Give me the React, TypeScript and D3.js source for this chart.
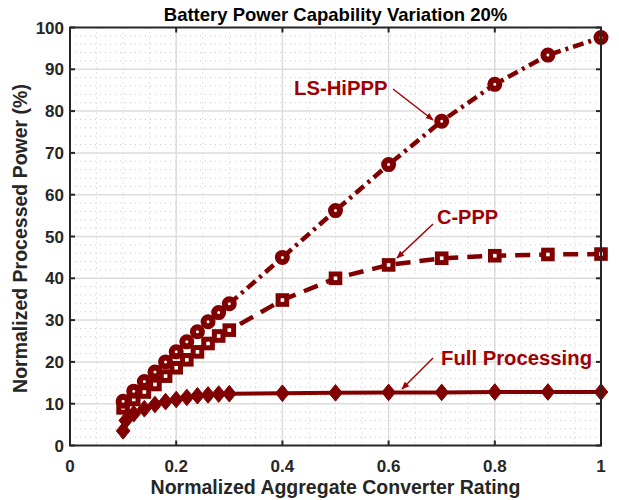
import React from "react";
import * as d3 from "d3";

const titleText = "Battery Power Capability Variation 20%";
const xLabel = "Normalized Aggregate Converter Rating";
const yLabel = "Normalized Processed Power (%)";
const xTicks = [0, 0.2, 0.4, 0.6, 0.8, 1];
const xTickLabels = ["0", "0.2", "0.4", "0.6", "0.8", "1"];
const yTicks = [0, 10, 20, 30, 40, 50, 60, 70, 80, 90, 100];

const lsX = [0.1, 0.12, 0.14, 0.16, 0.18, 0.2, 0.22, 0.24, 0.26, 0.28, 0.3, 0.4, 0.5, 0.6, 0.7, 0.8, 0.9, 1.0];
const lsY = [10.6, 13.0, 15.3, 17.6, 20.0, 22.4, 24.8, 27.2, 29.6, 31.8, 33.9, 45.0, 56.2, 67.2, 77.6, 86.4, 93.4, 97.6];

const cpX = [0.1, 0.12, 0.14, 0.16, 0.18, 0.2, 0.22, 0.24, 0.26, 0.28, 0.3, 0.4, 0.5, 0.6, 0.7, 0.8, 0.9, 1.0];
const cpY = [9.0, 11.0, 12.8, 14.6, 16.6, 18.6, 20.5, 22.4, 24.4, 26.2, 27.6, 34.8, 40.0, 43.2, 44.8, 45.4, 45.7, 45.8];

const fpX = [0.1, 0.105, 0.12, 0.14, 0.16, 0.18, 0.2, 0.22, 0.24, 0.26, 0.28, 0.3, 0.4, 0.5, 0.6, 0.7, 0.8, 0.9, 1.0];
const fpY = [3.5, 6.0, 7.6, 8.8, 9.8, 10.5, 11.0, 11.5, 11.9, 12.1, 12.3, 12.4, 12.5, 12.6, 12.7, 12.7, 12.8, 12.8, 12.8];

const W = 619, H = 500;
const M = { left: 70, right: 601, top: 27.5, bottom: 445.5 };
const lineColor = "#800000";
const textColor = "#a00000";
const font = "'Liberation Sans', Arial, Helvetica, sans-serif";

export default function App() {
  const x = d3.scaleLinear().domain([0, 1]).range([M.left, M.right]);
  const y = d3.scaleLinear().domain([0, 100]).range([M.bottom, M.top]);
  const line = d3.line<[number, number]>().x(d => x(d[0])).y(d => y(d[1]));
  const ls = lsX.map((v, i) => [v, lsY[i]] as [number, number]);
  const cp = cpX.map((v, i) => [v, cpY[i]] as [number, number]);
  const fp = fpX.map((v, i) => [v, fpY[i]] as [number, number]);

  const minorX = d3.range(0.05, 1, 0.05).filter(v => Math.abs(v * 5 - Math.round(v * 5)) > 1e-6);
  const minorY = d3.range(2, 100, 2).filter(v => v % 10 !== 0);

  const diamond = (cx: number, cy: number) => {
    const a = 6.8, b = 8.3;
    return `M${cx},${cy - b}L${cx + a},${cy}L${cx},${cy + b}L${cx - a},${cy}Z`;
  };

  return (
    <svg width={W} height={H} style={{ position: "absolute", left: 0, top: 0, background: "#fff" }}>
      <defs>
        <marker id="arr" viewBox="0 0 10 10" refX="9" refY="5" markerWidth="8" markerHeight="8" orient="auto" markerUnits="userSpaceOnUse">
          <path d="M0,1 L10,5 L0,9 Z" fill={textColor} />
        </marker>
      </defs>
      <rect x={M.left} y={M.top} width={M.right - M.left} height={M.bottom - M.top} fill="#fff" />
      {minorX.map((v, i) => (
        <line key={"mx" + i} x1={x(v)} x2={x(v)} y1={M.top} y2={M.bottom} stroke="#c8c8c8" strokeWidth={1} strokeDasharray="1 4" />
      ))}
      {minorY.map((v, i) => (
        <line key={"my" + i} x1={M.left} x2={M.right} y1={y(v)} y2={y(v)} stroke="#c8c8c8" strokeWidth={1} strokeDasharray="1 4" />
      ))}
      {xTicks.slice(1, -1).map((v, i) => (
        <line key={"gx" + i} x1={x(v)} x2={x(v)} y1={M.top} y2={M.bottom} stroke="#dcdcdc" strokeWidth={1.5} />
      ))}
      {yTicks.slice(1, -1).map((v, i) => (
        <line key={"gy" + i} x1={M.left} x2={M.right} y1={y(v)} y2={y(v)} stroke="#dcdcdc" strokeWidth={1.5} />
      ))}

      <path d={line(fp) || ""} fill="none" stroke={lineColor} strokeWidth={4} />
      <path d={line(cp) || ""} fill="none" stroke={lineColor} strokeWidth={4.5} strokeDasharray="15 9" />
      <path d={line(ls) || ""} fill="none" stroke={lineColor} strokeWidth={4.5} strokeDasharray="11 5 3 5" />

      {fp.map((d, i) => (
        <path key={"fp" + i} d={diamond(x(d[0]), y(d[1]))} fill={lineColor} stroke={lineColor} strokeWidth={1} />
      ))}
      {cp.map((d, i) => (
        <rect key={"cp" + i} x={x(d[0]) - 4.3} y={y(d[1]) - 4.3} width={8.6} height={8.6} fill="#fff" stroke={lineColor} strokeWidth={5} />
      ))}
      {ls.map((d, i) => (
        <circle key={"ls" + i} cx={x(d[0])} cy={y(d[1])} r={4.5} fill="#fff" stroke={lineColor} strokeWidth={6} />
      ))}

      <rect x={M.left} y={M.top} width={M.right - M.left} height={M.bottom - M.top} fill="none" stroke="#262626" strokeWidth={2} />
      {xTicks.map((v, i) => (
        <g key={"xt" + i}>
          <line x1={x(v)} x2={x(v)} y1={M.bottom} y2={M.bottom - 5} stroke="#262626" strokeWidth={2} />
          <line x1={x(v)} x2={x(v)} y1={M.top} y2={M.top + 5} stroke="#262626" strokeWidth={2} />
          <text x={x(v)} y={M.bottom + 26} textAnchor="middle" fontFamily={font} fontWeight="bold" fontSize={17} fill="#262626">{xTickLabels[i]}</text>
        </g>
      ))}
      {yTicks.map((v, i) => (
        <g key={"yt" + i}>
          <line x1={M.left} x2={M.left + 5} y1={y(v)} y2={y(v)} stroke="#262626" strokeWidth={2} />
          <line x1={M.right} x2={M.right - 5} y1={y(v)} y2={y(v)} stroke="#262626" strokeWidth={2} />
          <text x={M.left - 6} y={y(v) + 6} textAnchor="end" fontFamily={font} fontWeight="bold" fontSize={17} fill="#262626">{v}</text>
        </g>
      ))}

      <text x={(M.left + M.right) / 2} y={21} textAnchor="middle" fontFamily={font} fontWeight="bold" fontSize={18.5} fill="#000">{titleText}</text>
      <text x={(M.left + M.right) / 2} y={494} textAnchor="middle" fontFamily={font} fontWeight="bold" fontSize={19.5} fill="#262626">{xLabel}</text>
      <text transform={`translate(27,${(M.top + M.bottom) / 2 + 2}) rotate(-90)`} textAnchor="middle" fontFamily={font} fontWeight="bold" fontSize={19.5} fill="#262626">{yLabel}</text>

      <text x={294} y={95} fontFamily={font} fontWeight="bold" fontSize={20.3} fill={textColor}>LS-HiPPP</text>
      <line x1={393} y1={89} x2={433} y2={120} stroke={textColor} strokeWidth={1.5} markerEnd="url(#arr)" />
      <text x={437} y={224} fontFamily={font} fontWeight="bold" fontSize={20} fill={textColor}>C-PPP</text>
      <line x1={433} y1={224} x2={397} y2={258} stroke={textColor} strokeWidth={1.5} markerEnd="url(#arr)" />
      <text x={441} y={365} fontFamily={font} fontWeight="bold" fontSize={20.3} fill={textColor}>Full Processing</text>
      <line x1={433} y1={358} x2={402} y2={389} stroke={textColor} strokeWidth={1.5} markerEnd="url(#arr)" />
    </svg>
  );
}
